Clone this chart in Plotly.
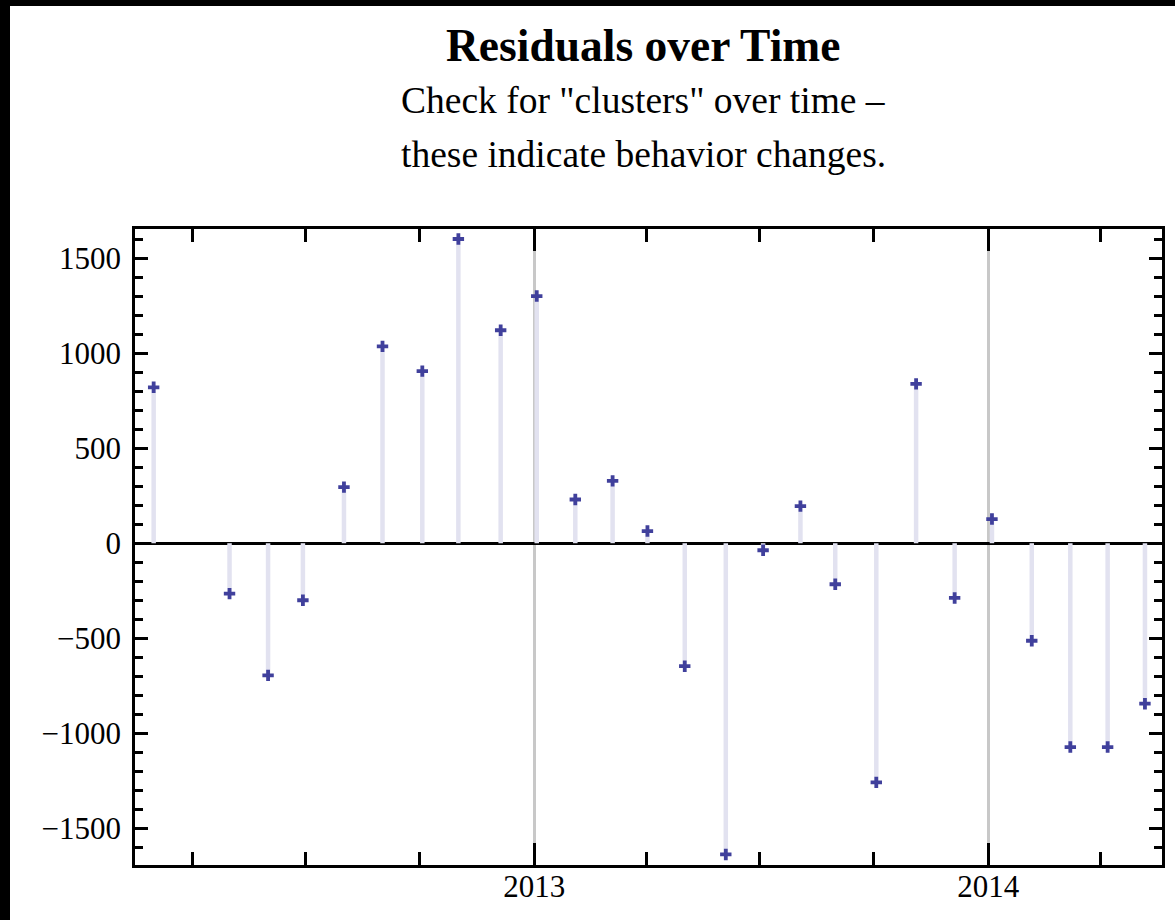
import plotly.graph_objects as go

# Residual observations (date, residual)
dates = [
    "2012-03-01", "2012-05-01", "2012-06-01", "2012-06-29", "2012-08-01",
    "2012-09-01", "2012-10-03", "2012-11-01", "2012-12-05", "2013-01-03",
    "2013-02-03", "2013-03-05", "2013-04-02", "2013-05-02", "2013-06-04",
    "2013-07-04", "2013-08-03", "2013-08-31", "2013-10-03", "2013-11-04",
    "2013-12-05", "2014-01-04", "2014-02-05", "2014-03-08", "2014-04-07",
    "2014-05-07",
]
residuals = [
    820, -265, -695, -300, 295,
    1035, 905, 1600, 1120, 1300,
    230, 328, 64, -647, -1637,
    -37, 195, -216, -1258, 838,
    -288, 127, -513, -1072, -1072,
    -844,
]

title_text = "Residuals over Time"
subtitle_lines = ['Check for "clusters" over time \u2013', "these indicate behavior changes."]
y_tickvals = [-1500, -1000, -500, 0, 500, 1000, 1500]
y_ticktext = ["\u22121500", "\u22121000", "\u2212500", "0", "500", "1000", "1500"]

SERIF = "Liberation Serif, Times New Roman, serif"

# Plot-area margins (pixels)
ML, MR, MT, MB = 135, 13, 229, 55
PW, PH = 1175 - ML - MR, 920 - MT - MB

# Vertical stems from zero to each residual
stem_x, stem_y = [], []
for d, v in zip(dates, residuals):
    stem_x += [d, d, None]
    stem_y += [0, v, None]

fig = go.Figure()
fig.add_trace(go.Scatter(
    x=stem_x, y=stem_y, mode="lines",
    line=dict(color="#e2e2f0", width=4.5),
    hoverinfo="skip", showlegend=False,
))
fig.add_trace(go.Scatter(
    x=dates, y=residuals, mode="markers",
    marker=dict(symbol="cross", size=9.5, color="#40409c", line=dict(width=0)),
    showlegend=False,
))

fig.update_xaxes(
    type="date", automargin=False,
    range=["2012-02-15 00:00", "2014-05-20 17:00"],
    tick0="2013-01-01", dtick="M12", tickformat="%Y",
    ticks="inside", ticklen=22, tickwidth=2.5, tickcolor="black",
    minor=dict(dtick="M3", tick0="2013-01-01", ticks="inside", ticklen=13,
               tickwidth=2.5, tickcolor="black", showgrid=False),
    showgrid=True, gridcolor="#c8c8c8", gridwidth=2.5,
    showline=True, linecolor="black", linewidth=2.5, mirror="allticks",
    zeroline=False,
    tickfont=dict(family=SERIF, size=31, color="black"),
    ticklabelstandoff=-8,
)
fig.update_yaxes(
    automargin=False,
    range=[-1692.5, 1652.6],
    tickvals=y_tickvals, ticktext=y_ticktext,
    ticks="inside", ticklen=13, tickwidth=2.5, tickcolor="black",
    minor=dict(dtick=100, tick0=0, ticks="inside", ticklen=8,
               tickwidth=2.5, tickcolor="black", showgrid=False),
    showgrid=False,
    showline=True, linecolor="black", linewidth=2.5, mirror="allticks",
    zeroline=True, zerolinecolor="black", zerolinewidth=2.5,
    tickfont=dict(family=SERIF, size=31, color="black"),
    ticklabelstandoff=5,
)


def py(pixel_y):
    """Canvas pixel row -> paper y coordinate."""
    return (920 - MB - pixel_y) / PH


def px(pixel_x):
    """Canvas pixel column -> paper x coordinate."""
    return (pixel_x - ML) / PW


# Title and two-line subtitle
fig.add_annotation(
    text="<b>" + title_text + "</b>", xref="paper", yref="paper",
    x=px(643), y=py(45), xanchor="center", yanchor="middle",
    showarrow=False, font=dict(family=SERIF, size=45.5, color="black"),
)
for i, line in enumerate(subtitle_lines):
    fig.add_annotation(
        text=line, xref="paper", yref="paper",
        x=px(643), y=py(100 + 55 * i), xanchor="center", yanchor="middle",
        showarrow=False, font=dict(family=SERIF, size=37.5, color="black"),
    )

# Dark frame strips along the left and top edges of the canvas
fig.add_shape(type="rect", xref="paper", yref="paper",
              x0=px(-10), x1=px(10), y0=py(940), y1=py(-10),
              fillcolor="black", line=dict(width=0), layer="above")
fig.add_shape(type="rect", xref="paper", yref="paper",
              x0=px(-10), x1=px(1190), y0=py(6), y1=py(-10),
              fillcolor="black", line=dict(width=0), layer="above")

fig.update_layout(
    width=1175, height=920,
    margin=dict(l=ML, r=MR, t=MT, b=MB, autoexpand=False),
    paper_bgcolor="white", plot_bgcolor="white",
    showlegend=False,
)

fig.write_html("out.html")
